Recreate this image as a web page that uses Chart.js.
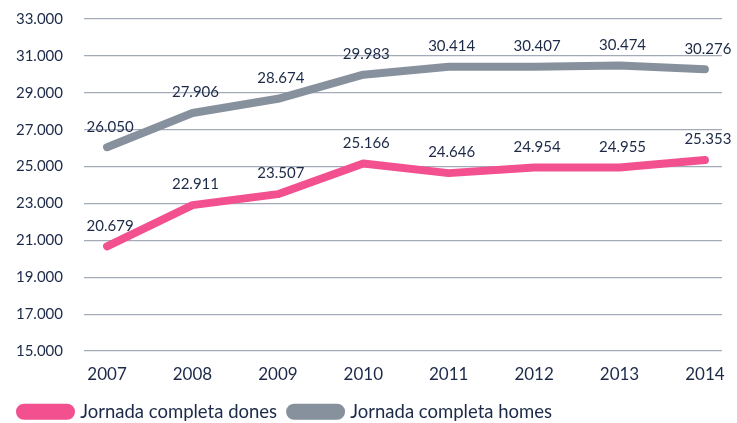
<!DOCTYPE html>
<html lang="ca">
<head>
<meta charset="UTF-8">
<title>Jornada completa</title>
<script src="https://cdn.jsdelivr.net/npm/chart.js@4.4.0/dist/chart.umd.min.js"></script>
<style>
  html, body { margin: 0; padding: 0; background: #fff; }
  #wrap { width: 737px; height: 423px; }
</style>
</head>
<body>
<div id="wrap"><canvas id="chart"></canvas></div>
<script>
const years = [2007, 2008, 2009, 2010, 2011, 2012, 2013, 2014];
const dones = [20679, 22911, 23507, 25166, 24646, 24954, 24955, 25353];
const homes = [26050, 27906, 28674, 29983, 30414, 30407, 30474, 30276];
const seriesNames = ['Jornada completa dones', 'Jornada completa homes'];

const textColor = '#1c2a48';
const fmt = v => Math.round(v).toString().replace(/\B(?=(\d{3})+(?!\d))/g, '.');

// draw the value above each point
const valueLabels = {
    id: 'valueLabels',
    afterDatasetsDraw(chart) {
        const ctx = chart.ctx;
        ctx.save();
        ctx.font = '15px Lato';
        ctx.fillStyle = textColor;
        ctx.textAlign = 'center';
        ctx.textBaseline = 'bottom';
        chart.data.datasets.forEach((ds, i) => {
            chart.getDatasetMeta(i).data.forEach((pt, j) => {
                ctx.fillText(fmt(ds.data[j].y), pt.x + 3, pt.y - 13);
            });
        });
        ctx.restore();
    }
};

new Chart(document.getElementById('chart'), {
    type: 'line',
    data: {
        datasets: [
            {
                label: seriesNames[0],
                data: years.map((y, i) => ({ x: y, y: dones[i] })),
                borderColor: '#f3508f',
                backgroundColor: '#f3508f',
                borderWidth: 8,
                pointRadius: 0,
                borderCapStyle: 'round',
                borderJoinStyle: 'round'
            },
            {
                label: seriesNames[1],
                data: years.map((y, i) => ({ x: y, y: homes[i] })),
                borderColor: '#87919e',
                backgroundColor: '#87919e',
                borderWidth: 8,
                pointRadius: 0,
                borderCapStyle: 'round',
                borderJoinStyle: 'round'
            }
        ]
    },
    options: {
        responsive: true,
        maintainAspectRatio: false,
        animation: false,
        layout: { padding: { left: 7, right: 15, top: 9, bottom: -8 } },
        plugins: {
            legend: {
                position: 'bottom',
                align: 'start',
                labels: {
                    color: textColor,
                    font: { family: 'Lato', size: 18.5 },
                    boxWidth: 51,
                    boxHeight: 8,
                    useBorderRadius: true,
                    borderRadius: 4,
                    padding: 13
                }
            },
            tooltip: { enabled: false }
        },
        scales: {
            x: {
                type: 'linear',
                min: 2006.73,
                max: 2014.2,
                afterBuildTicks: axis => { axis.ticks = years.map(v => ({ value: v })); },
                grid: { display: false },
                border: { display: false },
                ticks: {
                    color: textColor,
                    font: { family: 'Lato', size: 17 },
                    padding: 5,
                    callback: v => String(v)
                }
            },
            y: {
                min: 15000,
                max: 33000,
                afterFit: axis => { axis.width = 77; },
                ticks: {
                    stepSize: 2000,
                    color: textColor,
                    font: { family: 'Lato', size: 15 },
                    padding: 10,
                    callback: v => fmt(v)
                },
                grid: { color: '#a3abb9', lineWidth: 1.3, drawTicks: true, tickLength: 11, tickColor: 'rgba(0,0,0,0)' },
                border: { display: false }
            }
        }
    },
    plugins: [valueLabels]
});
</script>
</body>
</html>
